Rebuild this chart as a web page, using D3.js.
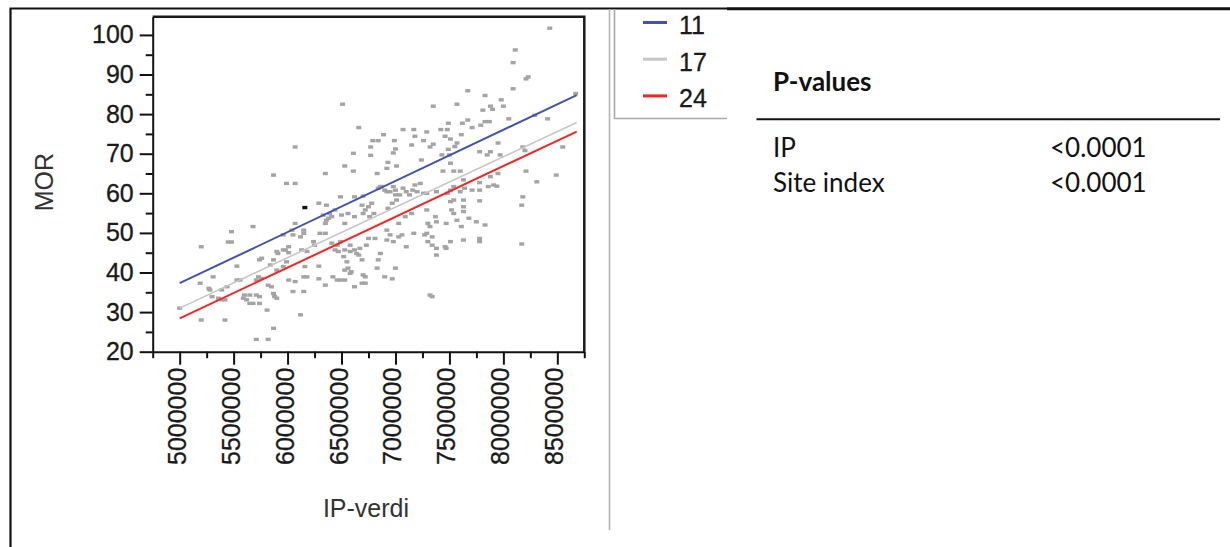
<!DOCTYPE html>
<html>
<head>
<meta charset="utf-8">
<script src="https://cdn.jsdelivr.net/npm/d3@7/dist/d3.min.js"></script>
<style>
  body { margin: 0; background: #fff; }
  svg { display: block; }
</style>
</head>
<body>
<svg id="chart" width="1230" height="547"></svg>
<script>
// datos: IP-verdi (x) y MOR (y)
const ipVerdi = [
  8430000, 8110000, 8090000, 8230000, 8210000, 8670000, 8090000, 7670000, 7830000, 6510000,
  7350000, 7570000, 7980000, 8000000, 7880000, 7900000, 7810000, 8050000, 8410000, 8290000,
  6660000, 7070000, 7170000, 7290000, 7420000, 7480000, 7490000, 7620000, 7670000, 7710000,
  7790000, 7830000, 7870000, 6790000, 6840000, 6890000, 6990000, 7180000, 7260000, 7350000,
  7320000, 7460000, 7510000, 7610000, 7570000, 7550000, 7950000, 8180000, 8200000, 8550000,
  6070000, 6770000, 7150000, 6610000, 6770000, 7000000, 6980000, 7240000, 7430000, 7490000,
  7500000, 7510000, 7780000, 7850000, 7880000, 7970000, 6530000, 6610000, 6350000, 6830000,
  6920000, 7010000, 6930000, 7440000, 7540000, 7600000, 7630000, 7780000, 7880000, 7950000,
  8210000, 8310000, 8490000, 5990000, 6070000, 6490000, 6620000, 8180000, 8170000, 8170000,
  6860000, 6920000, 7000000, 7040000, 7180000, 7200000, 7260000, 7480000, 7600000, 7780000,
  7910000, 7540000, 6290000, 6360000, 6390000, 6440000, 6380000, 6350000, 6500000, 6560000,
  6620000, 6690000, 6720000, 6750000, 6780000, 6840000, 6870000, 6900000, 6950000, 6980000,
  7000000, 7010000, 6970000, 6930000, 7070000, 7100000, 7130000, 7160000, 7230000, 7290000,
  7380000, 7510000, 7640000, 7710000, 7860000, 7940000, 7510000, 7630000, 7780000, 6070000,
  6050000, 6120000, 6150000, 5980000, 6010000, 6130000, 6180000, 6240000, 6250000, 6300000,
  6350000, 6410000, 6460000, 6490000, 6440000, 6470000, 6530000, 6580000, 6620000, 6670000,
  6640000, 6520000, 6550000, 6560000, 6530000, 6580000, 6590000, 6690000, 6750000, 6810000,
  6730000, 6860000, 6840000, 6920000, 6950000, 6920000, 6980000, 7030000, 7060000, 7030000,
  7090000, 7150000, 7170000, 7100000, 7290000, 7300000, 7320000, 7290000, 7270000, 7340000,
  7300000, 7340000, 7380000, 7380000, 7370000, 7380000, 7460000, 7470000, 7470000, 7540000,
  7520000, 7540000, 7570000, 7610000, 7510000, 7630000, 7630000, 7680000, 7750000, 7830000,
  7630000, 7780000, 7780000, 6830000, 7000000, 6900000, 6970000, 7320000, 7340000, 6160000,
  6290000, 6150000, 6180000, 6290000, 6350000, 6420000, 6460000, 6490000, 6530000, 6620000,
  6690000, 6700000, 6050000, 6150000, 6010000, 6120000, 6720000, 6720000, 6760000, 6800000,
  5680000, 5480000, 5200000, 5450000, 5480000, 6150000, 6330000, 6360000, 6410000, 6700000,
  6530000, 6700000, 5910000, 5760000, 5740000, 5530000, 5310000, 5190000, 5270000, 5280000,
  5300000, 5360000, 5390000, 5420000, 5530000, 5560000, 5590000, 5620000, 5650000, 5680000,
  5740000, 5600000, 5650000, 5710000, 5740000, 5730000, 5710000, 5760000, 5820000, 5850000,
  5870000, 5880000, 5900000, 5810000, 5870000, 5710000, 5820000, 5420000, 5200000, 5000000,
  6580000, 6660000, 5990000, 5960000, 5840000, 5870000, 5900000, 5900000, 5960000, 6010000,
  6070000, 5960000, 6040000, 5390000, 5440000, 5870000
];
const mor = [
  101.7, 96.2, 93.0, 89.4, 88.9, 85.2, 86.4, 85.9, 84.7, 82.5,
  82.0, 82.5, 83.6, 82.0, 82.0, 81.2, 81.0, 78.8, 78.8, 79.7,
  76.6, 76.1, 76.1, 75.5, 76.1, 76.1, 77.7, 77.7, 78.5, 76.6,
  77.2, 78.1, 78.1, 73.3, 73.3, 74.8, 73.3, 74.4, 73.3, 72.4,
  71.7, 74.4, 73.7, 74.8, 72.7, 71.8, 72.7, 71.7, 70.8, 71.7,
  71.7, 71.7, 72.2, 70.1, 69.6, 71.2, 70.2, 68.4, 69.7, 71.1,
  69.7, 67.6, 70.5, 69.7, 70.5, 69.7, 66.9, 65.6, 65.0, 65.0,
  66.3, 66.9, 67.8, 65.6, 65.6, 65.6, 63.4, 62.7, 64.2, 65.0,
  65.6, 62.9, 64.6, 62.5, 62.5, 59.1, 59.1, 59.1, 57.0, 47.2,
  61.7, 60.4, 60.8, 59.6, 62.1, 60.4, 60.0, 60.0, 60.4, 60.8,
  62.1, 61.7, 57.5, 57.0, 54.9, 55.8, 53.7, 52.4, 54.5, 54.9,
  54.1, 57.0, 55.8, 56.6, 57.5, 61.3, 61.7, 60.8, 60.4, 61.7,
  59.6, 58.3, 57.5, 56.2, 61.3, 60.4, 59.6, 60.8, 62.5, 60.0,
  60.4, 60.8, 61.3, 60.8, 61.7, 61.8, 57.9, 58.3, 58.1, 52.4,
  49.5, 49.0, 49.9, 45.7, 46.5, 45.7, 45.3, 47.8, 46.9, 49.9,
  49.9, 47.4, 46.9, 47.8, 45.7, 45.3, 45.7, 45.3, 45.7, 46.1,
  44.8, 44.0, 42.7, 41.1, 40.6, 39.8, 40.2, 43.2, 48.6, 48.6,
  46.9, 44.8, 43.2, 50.7, 49.5, 48.2, 47.8, 49.0, 49.5, 52.4,
  54.1, 54.9, 49.9, 46.5, 55.8, 52.4, 51.6, 49.9, 49.5, 49.0,
  47.8, 46.9, 46.1, 44.4, 54.1, 52.8, 46.5, 46.1, 52.4, 58.3,
  55.8, 54.9, 53.2, 51.6, 47.8, 56.6, 55.4, 53.7, 52.8, 52.0,
  48.2, 48.6, 47.8, 41.1, 41.1, 38.9, 38.4, 34.3, 33.9, 41.5,
  41.6, 38.9, 38.9, 38.4, 36.8, 38.9, 38.1, 38.1, 38.1, 36.4,
  37.3, 39.4, 35.2, 35.2, 38.1, 29.3, 38.9, 37.3, 54.1, 54.9,
  51.6, 50.3, 46.5, 47.7, 47.7, 50.7, 54.5, 53.2, 54.1, 59.3,
  52.4, 54.9, 44.8, 43.6, 43.2, 41.6, 38.9, 37.3, 36.0, 35.6,
  33.9, 33.5, 33.1, 33.1, 38.1, 38.1, 33.5, 33.1, 32.2, 32.2,
  32.2, 34.3, 34.3, 34.3, 33.9, 38.9, 38.1, 38.5, 36.8, 36.4,
  34.7, 33.9, 33.5, 30.5, 25.9, 23.1, 23.1, 28.0, 28.0, 31.0,
  46.9, 44.4, 42.7, 41.5, 41.9, 43.2, 40.6, 45.3, 45.7, 45.0,
  37.7, 49.5, 50.7, 35.6, 36.4, 64.6
];

// punto marcado en negro
const markedIp = [6160000];
const markedMor = [56.4];

// rectas ajustadas por site index
const siteIndex = ["11", "17", "24"];
const fitIp = [5000000, 8680000];
const fitMor11 = [37.3, 84.8];
const fitMor17 = [31.0, 77.9];
const fitMor24 = [28.4, 75.6];

// ticks
const yTicks = [20, 30, 40, 50, 60, 70, 80, 90, 100];
const yMinor = [25, 35, 45, 55, 65, 75, 85, 95];
const xTicks = [5000000, 5500000, 6000000, 6500000, 7000000, 7500000, 8000000, 8500000];
const xMinor = [4750000, 5250000, 5750000, 6250000, 6750000, 7250000, 7750000, 8250000, 8750000];

// tabla de p-values
const pNames = ["IP", "Site index"];
const pValues = ["<0.0001", "<0.0001"];

const fitColors = ["#4353ad", "#c6c6c6", "#f52424"];
const axisFont = "'Liberation Sans', Arial, sans-serif";
const tableFont = "Lato, 'Open Sans', sans-serif";

document.addEventListener("DOMContentLoaded", function () {
    drawFrame();
    drawGraph();
    drawLegend();
    drawTable();
});

function drawFrame(){
    const svg = d3.select("#chart");
    svg.append("rect").attr("width", 1230).attr("height", 547).attr("fill", "#fff");

    // marco exterior
    svg.append("path")
        .attr("d", "M10.5,547 V8.5 H1230")
        .attr("fill", "none")
        .attr("stroke", "#111")
        .attr("stroke-width", 2.2);
    svg.append("line")
        .attr("x1", 727).attr("x2", 1230).attr("y1", 8.8).attr("y2", 8.8)
        .attr("stroke", "#111").attr("stroke-width", 2.8);

    // separador gris
    svg.append("line")
        .attr("x1", 609.5).attr("x2", 609.5).attr("y1", 9).attr("y2", 530)
        .attr("stroke", "#b4b4b4").attr("stroke-width", 1.6);
}

function drawGraph(){
    const svg = d3.select("#chart");
    const plot = {left: 152.7, right: 584.3, top: 16.7, bottom: 351.7};

    const x = d3.scaleLinear()
        .domain([4750000, 8750000])
        .range([plot.left, plot.right]);
    const y = d3.scaleLinear()
        .domain([20, 104.6])
        .range([plot.bottom, plot.top]);

    // marco superior y derecho
    svg.append("path")
        .attr("d", `M${plot.left},${plot.top} H${plot.right} V${plot.bottom}`)
        .attr("fill", "none")
        .attr("stroke", "#1a1a1a")
        .attr("stroke-width", 2.5);

    // Eje Y
    svg.append("g")
        .attr("class", "axis")
        .attr("transform", `translate(${plot.left},0)`)
        .call(d3.axisLeft(y).tickValues(yTicks).tickSize(13).tickSizeOuter(0).tickPadding(6).tickFormat(d3.format("d")));
    svg.append("g")
        .attr("transform", `translate(${plot.left},0)`)
        .call(d3.axisLeft(y).tickValues(yMinor).tickSize(7).tickSizeOuter(0).tickFormat(""))
        .select(".domain").remove();

    // Eje X
    const xAxis = svg.append("g")
        .attr("class", "axis")
        .attr("transform", `translate(0,${plot.bottom})`)
        .call(d3.axisBottom(x).tickValues(xTicks).tickSize(13).tickSizeOuter(0).tickFormat(d3.format("d")));
    xAxis.selectAll("text")
        .attr("transform", "rotate(-90)")
        .attr("text-anchor", "end")
        .attr("x", -16)
        .attr("y", 5.5)
        .attr("dy", 0);
    svg.append("g")
        .attr("transform", `translate(0,${plot.bottom})`)
        .call(d3.axisBottom(x).tickValues(xMinor).tickSize(6.5).tickSizeOuter(0).tickFormat(""))
        .select(".domain").remove();

    svg.selectAll(".tick line, .domain")
        .attr("stroke", "#111")
        .attr("stroke-width", 2);
    svg.selectAll(".axis text")
        .attr("font-family", axisFont)
        .attr("font-size", 25)
        .attr("fill", "#1a1a1a")
        .attr("stroke", "#1a1a1a")
        .attr("stroke-width", 0.3);

    // titulos de ejes
    svg.append("text")
        .attr("transform", `translate(53,${(plot.top + plot.bottom) / 2 - 2}) rotate(-90)`)
        .attr("text-anchor", "middle")
        .attr("font-family", axisFont)
        .attr("font-size", 25)
        .attr("fill", "#333")
        .text("MOR");
    svg.append("text")
        .attr("x", 366)
        .attr("y", 517)
        .attr("text-anchor", "middle")
        .attr("font-family", axisFont)
        .attr("font-size", 25)
        .attr("fill", "#333")
        .text("IP-verdi");

    // puntos
    const points = ipVerdi.map((d, i) => ({ip: d, mor: mor[i]}));
    svg.append("g")
        .selectAll("rect")
        .data(points)
        .join("rect")
        .attr("x", d => x(d.ip) - 2.5)
        .attr("y", d => y(d.mor) - 1.7)
        .attr("width", 5)
        .attr("height", 3.4)
        .attr("fill", "#a4a4a4");

    svg.append("g")
        .selectAll("rect")
        .data(markedIp.map((d, i) => ({ip: d, mor: markedMor[i]})))
        .join("rect")
        .attr("x", d => x(d.ip) - 2.5)
        .attr("y", d => y(d.mor) - 1.7)
        .attr("width", 5)
        .attr("height", 3.4)
        .attr("fill", "#111");

    // rectas
    const fits = [fitMor11, fitMor17, fitMor24];
    const line = d3.line()
        .x(d => x(d[0]))
        .y(d => y(d[1]));
    fits.forEach((vals, k) => {
        svg.append("path")
            .datum(fitIp.map((d, i) => [d, vals[i]]))
            .attr("d", line)
            .attr("fill", "none")
            .attr("stroke", fitColors[k])
            .attr("stroke-width", k === 1 ? 1.6 : 2);
    });
}

function drawLegend(){
    const svg = d3.select("#chart");

    // caja de la leyenda
    svg.append("path")
        .attr("d", "M614.5,9 V118.5 H727")
        .attr("fill", "none")
        .attr("stroke", "#a9a9a9")
        .attr("stroke-width", 1.6);

    const rows = svg.append("g")
        .selectAll("g")
        .data(siteIndex)
        .join("g")
        .attr("transform", (d, i) => `translate(643,${22.5 + i * 36.7})`);
    rows.append("line")
        .attr("x1", 0).attr("x2", 24)
        .attr("stroke", (d, i) => fitColors[i])
        .attr("stroke-width", 3);
    rows.append("text")
        .attr("x", 36)
        .attr("y", 11.5)
        .attr("font-family", axisFont)
        .attr("font-size", 25)
        .attr("fill", "#1a1a1a")
        .attr("stroke", "#1a1a1a")
        .attr("stroke-width", 0.3)
        .text(d => d);
}

function drawTable(){
    const svg = d3.select("#chart");

    svg.append("text")
        .attr("x", 773)
        .attr("y", 90.7)
        .attr("font-family", tableFont)
        .attr("font-weight", "bold")
        .attr("font-size", 26)
        .attr("fill", "#111")
        .text("P-values");

    svg.append("line")
        .attr("x1", 756.5).attr("x2", 1220)
        .attr("y1", 119.3).attr("y2", 119.3)
        .attr("stroke", "#111")
        .attr("stroke-width", 2);

    const rows = svg.append("g")
        .selectAll("g")
        .data(pNames)
        .join("g")
        .attr("transform", (d, i) => `translate(0,${157 + i * 35})`);
    rows.append("text")
        .attr("x", 773)
        .text(d => d);
    rows.append("text")
        .attr("x", 1050)
        .text((d, i) => pValues[i]);
    rows.selectAll("text")
        .attr("font-family", tableFont)
        .attr("font-size", 26)
        .attr("fill", "#111");
}
</script>
</body>
</html>
